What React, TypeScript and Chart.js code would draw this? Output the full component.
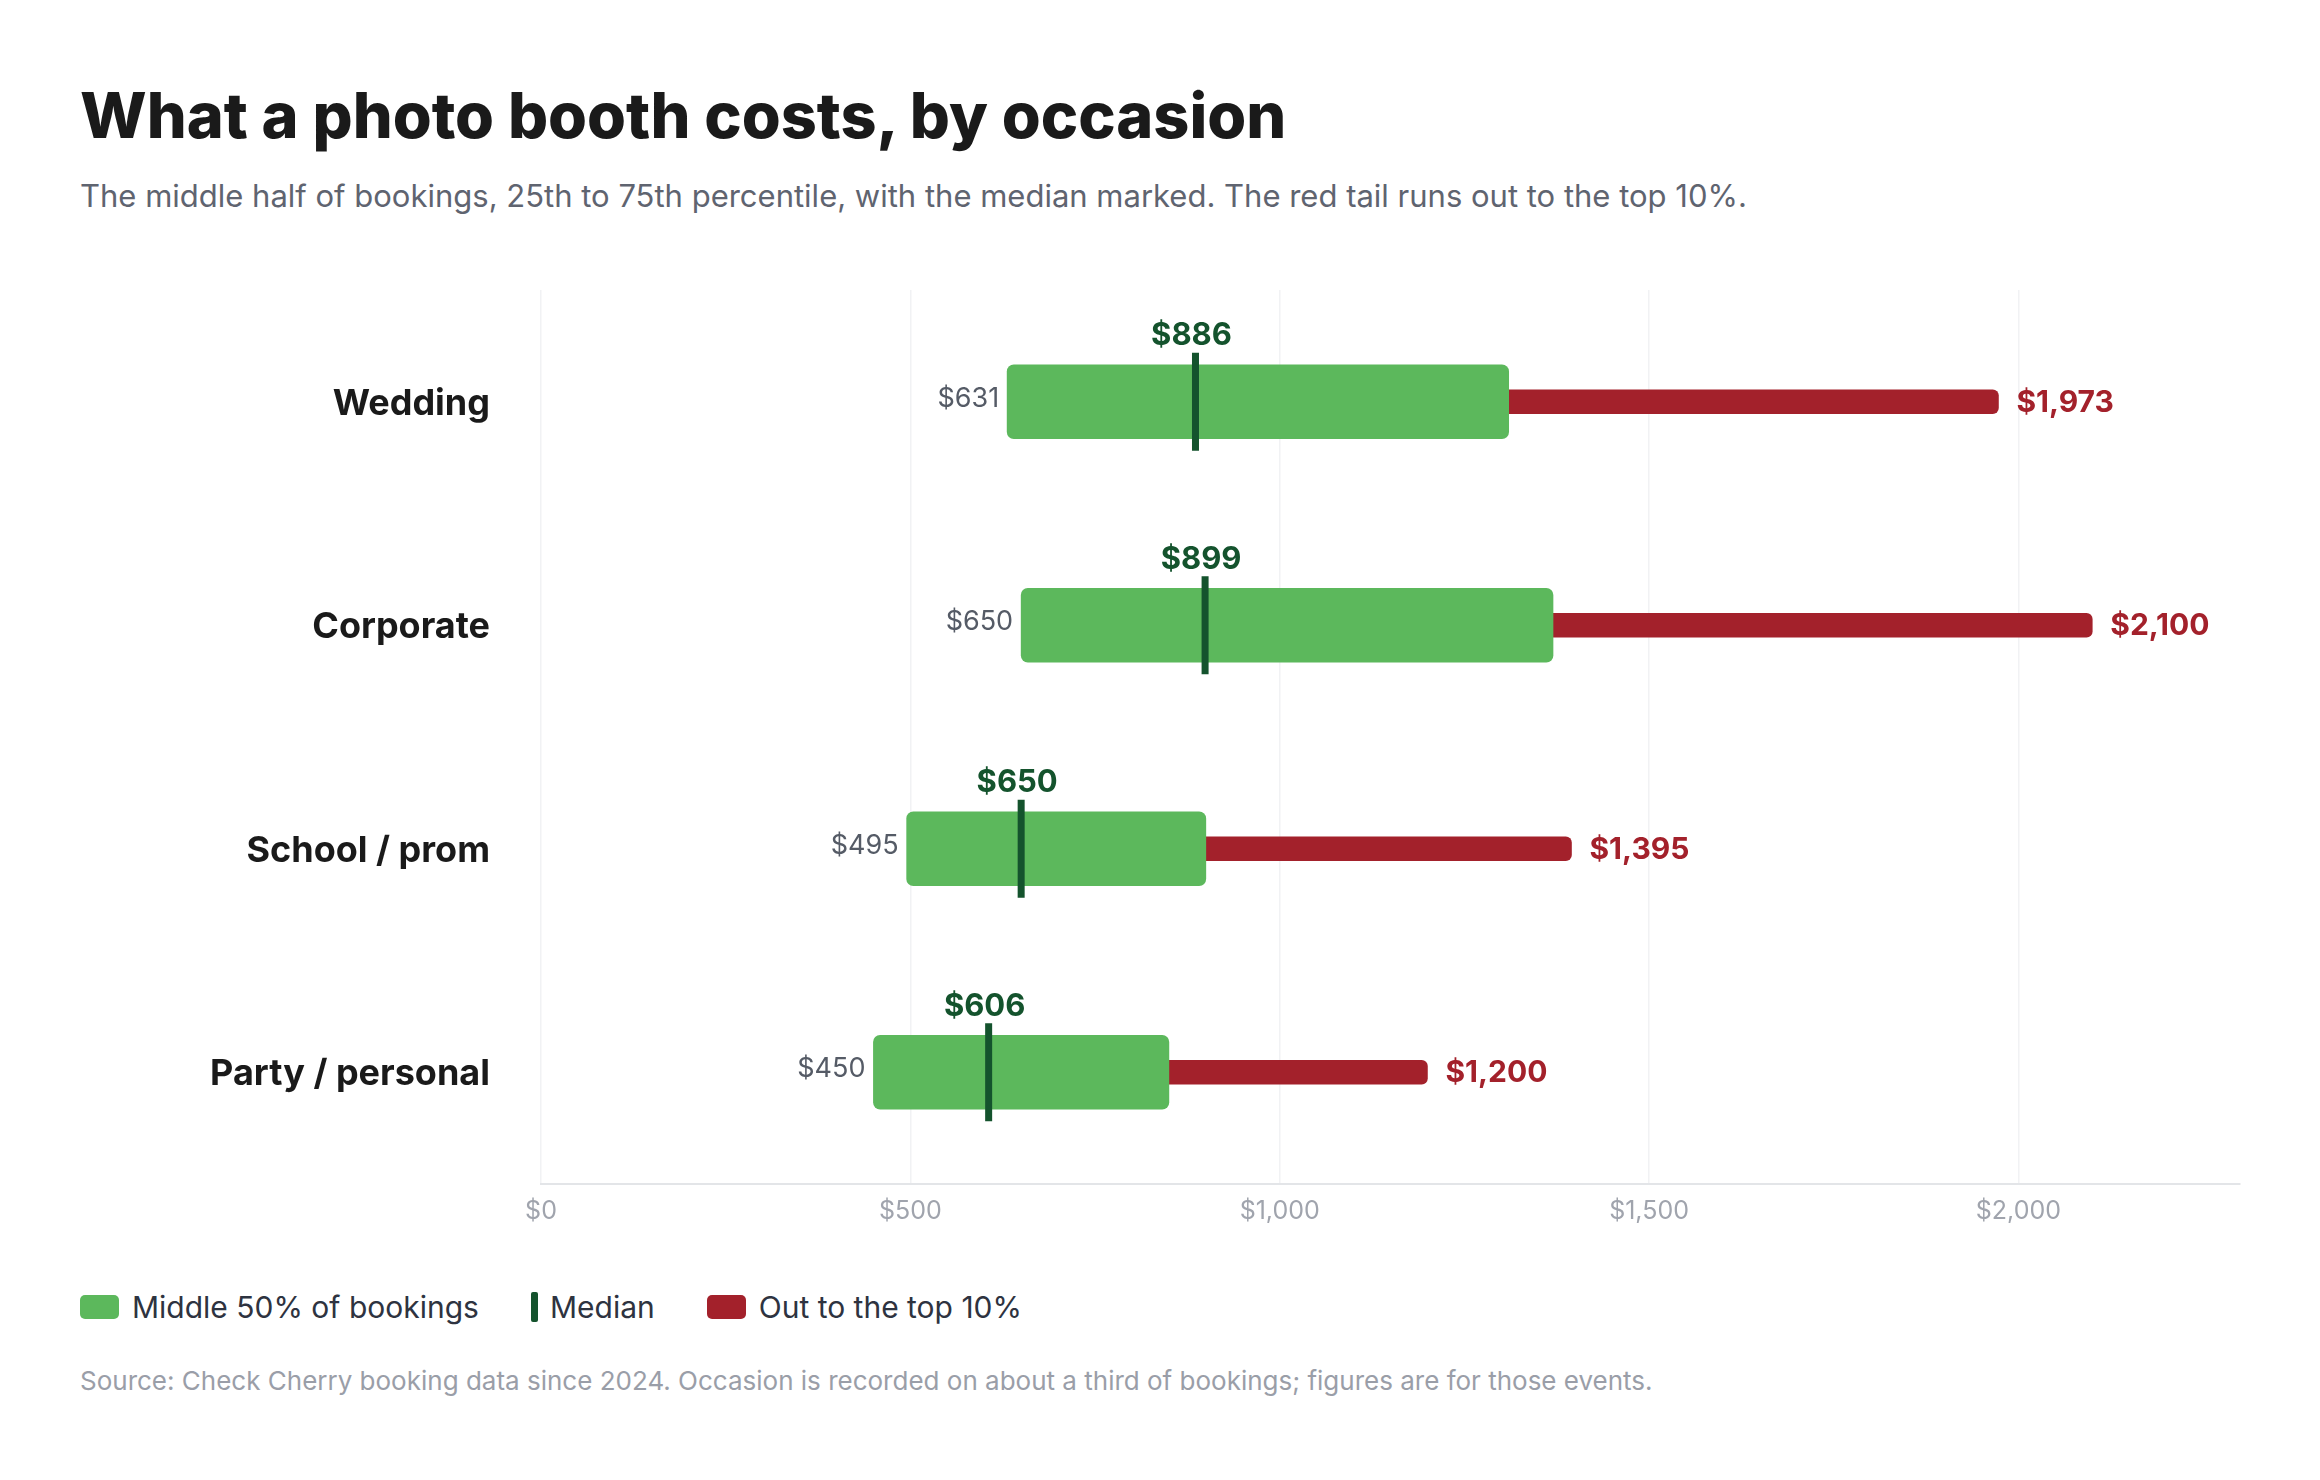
import React, { useEffect, useRef } from "react";
import { Chart, registerables } from "chart.js";
Chart.register(...registerables);

const categories = ["Wedding", "Corporate", "School / prom", "Party / personal"];
const p25 = [631, 650, 495, 450];
const median = [886, 899, 650, 606];
const p75 = [1310, 1370, 900, 850];
const p90 = [1973, 2100, 1395, 1200];
const tickValues = [0, 500, 1000, 1500, 2000];

const GREEN = "#5cb85c";
const RED = "#a3212b";
const DARK = "#14532d";
const FONT = "Inter, 'Noto Sans', sans-serif";
const fmt = (v: number) => "$" + v.toLocaleString("en-US");

export default function App() {
  const ref = useRef<HTMLCanvasElement | null>(null);
  useEffect(() => {
    if (!ref.current) return;
    const overlay = {
      id: "overlay",
      afterDatasetsDraw(chart: any) {
        const { ctx, scales } = chart;
        const x = scales.x, y = scales.y;
        ctx.save();
        categories.forEach((c, i) => {
          const cy = y.getPixelForValue(i);
          ctx.textBaseline = "middle";
          ctx.fillStyle = "#1a1a1a";
          ctx.font = `700 36px ${FONT}`;
          ctx.textAlign = "right";
          ctx.fillText(c, 482, cy + 2);
          ctx.fillStyle = "#555b66";
          ctx.font = `400 27px ${FONT}`;
          ctx.fillText(fmt(p25[i]), x.getPixelForValue(p25[i]) - 8, cy - 3);
          ctx.textAlign = "left";
          ctx.fillStyle = RED;
          ctx.font = `700 30px ${FONT}`;
          ctx.fillText(fmt(p90[i]), x.getPixelForValue(p90[i]) + 18, cy + 1);
          const mx = x.getPixelForValue(median[i]);
          ctx.fillStyle = DARK;
          ctx.fillRect(mx - 3.5, cy - 49, 7, 98);
          ctx.textAlign = "center";
          ctx.font = `700 31px ${FONT}`;
          ctx.fillText(fmt(median[i]), mx - 4, cy - 66);
        });
        ctx.restore();
      },
    };
    const chart = new Chart(ref.current, {
      type: "bar",
      data: {
        labels: categories,
        datasets: [
          {
            label: "Middle 50% of bookings",
            data: categories.map((_, i) => [p25[i], p75[i]]),
            backgroundColor: GREEN,
            barThickness: 74,
            borderRadius: 7,
            borderSkipped: false,
            grouped: false,
            order: 1,
          } as any,
          {
            label: "Out to the top 10%",
            data: categories.map((_, i) => [p75[i] - 20, p90[i]]),
            backgroundColor: RED,
            barThickness: 24,
            borderRadius: 6,
            borderSkipped: false,
            grouped: false,
            order: 2,
          } as any,
        ],
      },
      options: {
        indexAxis: "y",
        animation: false,
        responsive: false,
        layout: { padding: { left: 525, right: 72, top: 30, bottom: 0 } },
        plugins: { legend: { display: false }, tooltip: { enabled: false } },
        scales: {
          x: {
            min: 0,
            max: 2300,
            afterBuildTicks: (s: any) => { s.ticks = tickValues.map((v) => ({ value: v })); },
            ticks: { color: "#a0a4ad", font: { family: FONT, size: 25 }, padding: 12, callback: (v: any) => fmt(Number(v)) },
            grid: { color: "#f1f2f4", lineWidth: 1.5, drawTicks: false },
            border: { color: "#e3e5e8", width: 2 },
          },
          y: {
            afterDataLimits: (s: any) => { s.max = 3.15; },
            ticks: { display: false },
            grid: { display: false },
            border: { display: false },
          },
        },
      },
      plugins: [overlay],
    } as any);
    return () => chart.destroy();
  }, []);

  const abs = (top: number, extra: any = {}) => ({ position: "absolute" as const, top, left: 72, fontFamily: FONT, whiteSpace: "nowrap" as const, ...extra });
  return (
    <div style={{ position: "relative", width: 2304, height: 1460, background: "#fff" }}>
      <div style={abs(76, { fontSize: 63, fontWeight: 800, lineHeight: "63px", color: "#1a1a1a" })}>
        What a photo booth costs, by occasion
      </div>
      <div style={abs(171, { fontSize: 31, lineHeight: "34px", color: "#5f6470" })}>
        The middle half of bookings, 25th to 75th percentile, with the median marked. The red tail runs out to the top 10%.
      </div>
      <canvas ref={ref} width={2304} height={978} style={{ position: "absolute", top: 252, left: 0, width: 2304, height: 978 }} />
      <div style={abs(1282, { fontSize: 30, lineHeight: "34px", color: "#2e3340", display: "flex", alignItems: "center" })}>
        <span style={{ width: 39, height: 24, background: GREEN, borderRadius: 5, marginRight: 13 }} />
        <span>Middle 50% of bookings</span>
        <span style={{ width: 7, height: 30, background: DARK, borderRadius: 2, marginLeft: 52, marginRight: 12 }} />
        <span>Median</span>
        <span style={{ width: 39, height: 24, background: RED, borderRadius: 5, marginLeft: 52, marginRight: 13 }} />
        <span>Out to the top 10%</span>
      </div>
      <div style={abs(1358, { fontSize: 26, lineHeight: "30px", color: "#9a9ea8" })}>
        Source: Check Cherry booking data since 2024. Occasion is recorded on about a third of bookings; figures are for those events.
      </div>
    </div>
  );
}
